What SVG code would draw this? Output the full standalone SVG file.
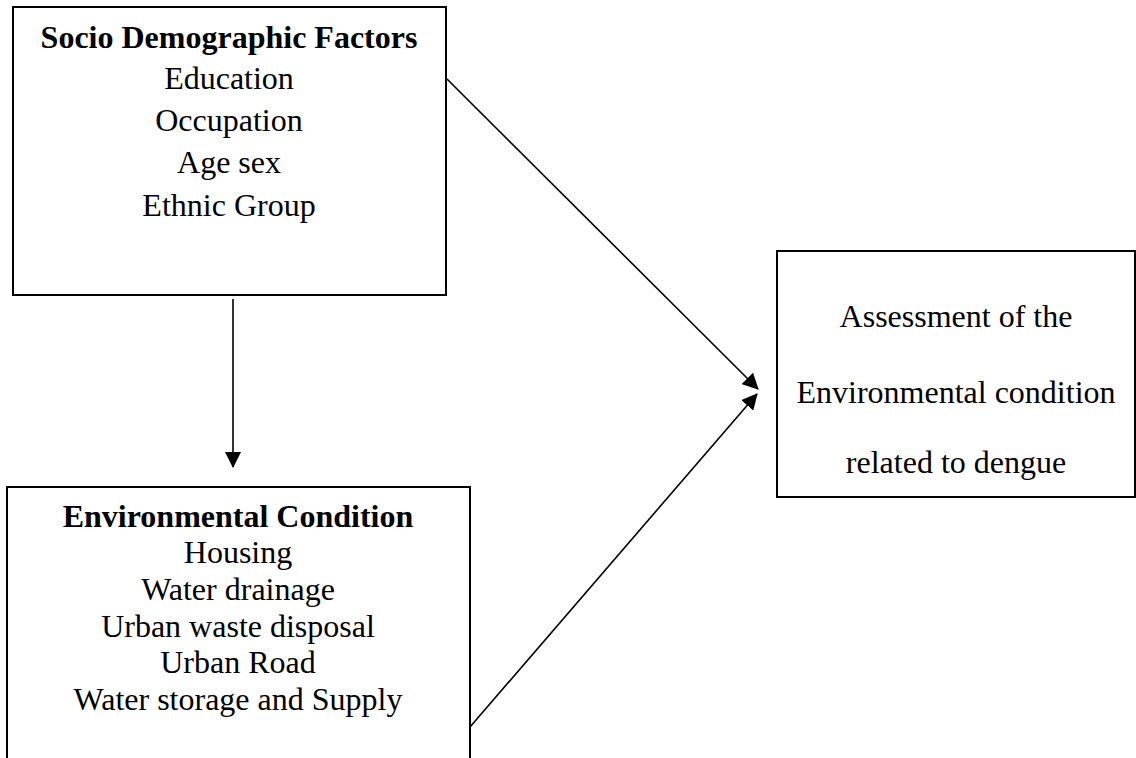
<svg xmlns="http://www.w3.org/2000/svg" width="1136" height="758" viewBox="0 0 1136 758">
<style>
.box{fill:#fff;stroke:#000;stroke-width:2}
.t{font-family:"Liberation Serif","Times New Roman",serif;font-size:32px;fill:#000;text-anchor:middle}
.b{font-weight:bold}
.c{stroke:#000;stroke-width:1.6;fill:none}
</style>
<defs>
<marker id="ah2" viewBox="0 0 16 16" refX="15" refY="8" markerWidth="16" markerHeight="16" orient="auto" markerUnits="userSpaceOnUse">
<path d="M0,0 L16,8 L0,16 Z" fill="#000"/>
</marker>
</defs>
<rect width="1136" height="758" fill="#fff"/>
<g id="socio">
<rect class="box" x="13" y="7" width="433" height="288"/>
<text class="t b" x="229" y="48">Socio Demographic Factors</text>
<text class="t" x="229" y="89">Education</text>
<text class="t" x="229" y="131">Occupation</text>
<text class="t" x="229" y="173">Age sex</text>
<text class="t" x="229" y="216">Ethnic Group</text>
</g>
<g id="env">
<rect class="box" x="7" y="487" width="463" height="290"/>
<text class="t b" x="238" y="527">Environmental Condition</text>
<text class="t" x="238" y="563">Housing</text>
<text class="t" x="238" y="600">Water drainage</text>
<text class="t" x="238" y="637">Urban waste disposal</text>
<text class="t" x="238" y="673">Urban Road</text>
<text class="t" x="238" y="710">Water storage and Supply</text>
</g>
<g id="assess">
<rect class="box" x="777" y="251" width="358" height="246"/>
<text class="t" x="956" y="327">Assessment of the</text>
<text class="t" x="956" y="403">Environmental condition</text>
<text class="t" x="956" y="473">related to dengue</text>
</g>
<g id="connectors">
<line class="c" x1="233" y1="299" x2="233" y2="467" marker-end="url(#ah2)"/>
<line class="c" x1="447" y1="79" x2="758" y2="389" marker-end="url(#ah2)"/>
<line class="c" x1="470" y1="727" x2="757" y2="394" marker-end="url(#ah2)"/>
</g>
</svg>
